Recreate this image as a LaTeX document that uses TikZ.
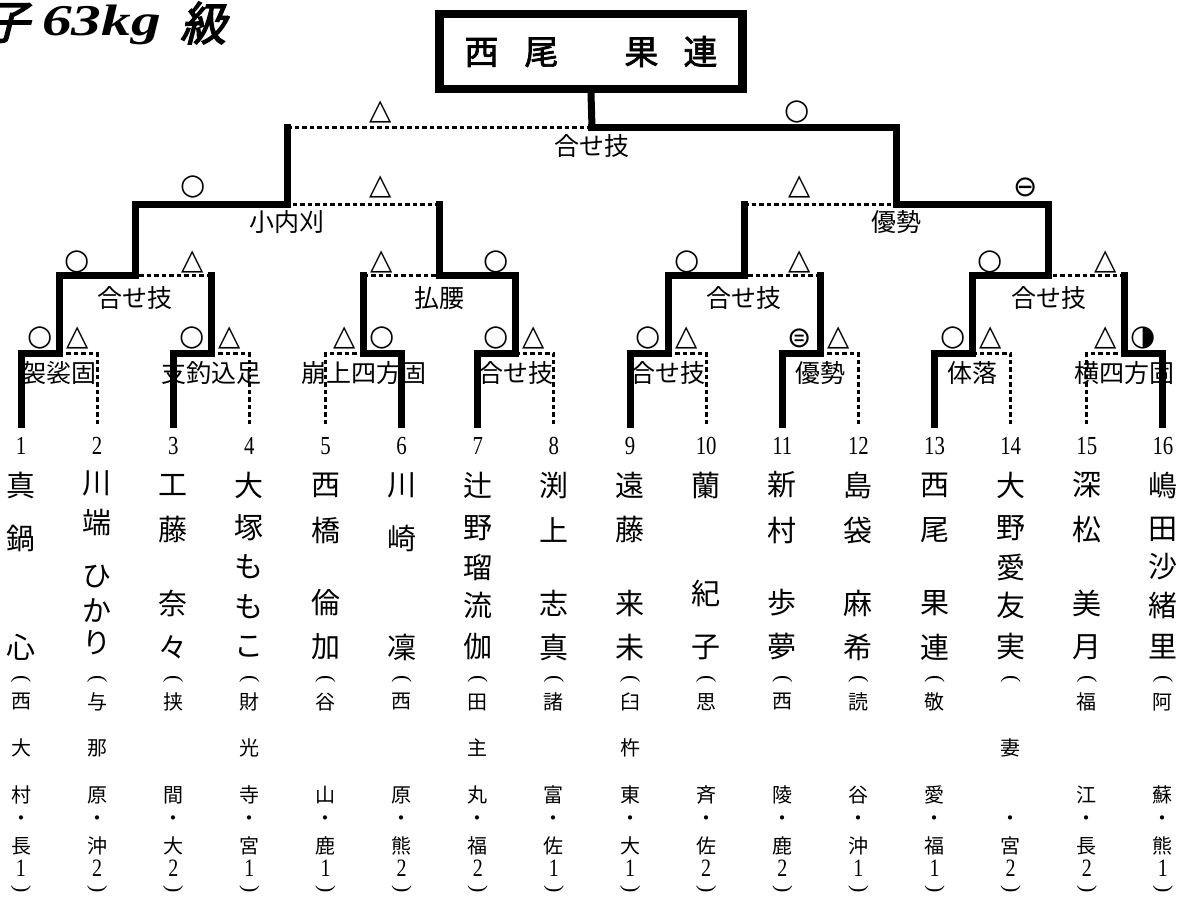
\documentclass[tikz,border=0pt]{standalone}
\usepackage{fontspec}
\usetikzlibrary{calc}
\setmainfont{Liberation Serif}
\newfontfamily\cjk{Noto Sans CJK JP}
\newfontfamily\cjkb{Noto Sans CJK JP}[FakeBold=2]
\newfontfamily\cjkti{Noto Sans CJK JP}[FakeBold=3,FakeSlant=0.25]
\newfontfamily\numf{Liberation Serif}[FakeStretch=0.8]
\newfontfamily\titlef{Liberation Serif}[FakeStretch=1.35]
\newfontfamily\symf{DejaVu Sans}
\newcommand\pcol[2]{\foreach \c/\yy [count=\k] in {#2} {\node[namech] (nm#1-\k) at ({21+(#1-1)*76.13},\yy) {\c};}}
\newcommand\acol[4]{%
  \pgfmathsetmacro\ax{21+(#1-1)*76.13}%
  \node[paren] (ao#1) at (\ax,679) {(};
  \foreach \c/\yy [count=\k] in {#2} {\node[affch] (af#1-\k) at (\ax,\yy) {\c};}
  \node[affch] (ad#1) at (\ax,821) {・};
  \node[affch] (ap#1) at (\ax,846) {#3};
  \node[affnum] (ag#1) at (\ax,868) {#4};
  \node[paren] (ac#1) at (\ax,889) {)};
}
\tikzset{
  win/.style={line width=7pt, line cap=rect, line join=miter},
  lose/.style={line width=3pt, dash pattern=on 4.5pt off 3pt},
  waza/.style={font=\cjk\fontsize{25}{25}\selectfont, inner sep=0pt},
  res/.style={font=\symf\fontsize{29}{29}\selectfont, inner sep=0pt},
  num/.style={font=\numf\fontsize{26}{26}\selectfont, inner sep=0pt},
  namech/.style={font=\cjk\fontsize{29}{29}\selectfont, inner sep=0pt},
  affch/.style={font=\cjk\fontsize{20}{20}\selectfont, inner sep=0pt},
  affnum/.style={font=\numf\fontsize{25}{25}\selectfont, inner sep=0pt},
  paren/.style={font=\fontsize{22}{22}\selectfont, inner sep=0pt, rotate=-90},
}
\begin{document}
\begin{tikzpicture}[x=1pt,y=-1pt]
\useasboundingbox (0,0) rectangle (1179,899);
% title
\node[font=\cjkti\fontsize{46}{46}\selectfont, inner sep=0pt] (t1) at (6,23) {子};
\node[font=\titlef\bfseries\itshape\fontsize{44}{44}\selectfont, inner sep=0pt, anchor=base west] (t2) at (42,36) {63kg};
\node[font=\cjkti\fontsize{46}{46}\selectfont, inner sep=0pt] (t3) at (203,23) {級};
% champion
\node[draw, line width=8.5pt, minimum width=303pt, minimum height=75pt, inner sep=0pt,
      font=\cjkb\fontsize{34}{34}\selectfont] (champ) at (591,51.5)
      {西\hspace{26pt}尾\hspace{66pt}果\hspace{25pt}連};
% coordinates
\foreach \i in {1,...,16} \coordinate (p\i) at ({21+(\i-1)*76.13},424);
\foreach \k in {1,...,8} \coordinate (a\k) at ({21+(2*\k-1.5)*76.13},353);
\foreach \k in {1,...,4} \coordinate (b\k) at ({21+(4*\k-2.5)*76.13},275);
\foreach \k in {1,2} \coordinate (c\k) at ({21+(8*\k-4.5)*76.13},204);
\coordinate (d) at ({21+7.5*76.13},127);
% technique labels
\foreach \k/\t in {1/袈裟固,2/支釣込足,3/崩上四方固,4/合せ技,5/合せ技,6/優勢,7/体落,8/横四方固}
  {\node[waza] (wa\k) at ($(a\k)+(0,20)$) {\t};}
\foreach \k/\t in {1/合せ技,2/払腰,3/合せ技,4/合せ技}
  {\node[waza] (wb\k) at ($(b\k)+(0,23)$) {\t};}
\node[waza] (wc1) at ($(c1)+(0,18)$) {小内刈};
\node[waza] (wc2) at ($(c2)+(0,18)$) {優勢};
\node[waza] (wd) at ($(d)+(0,19)$) {合せ技};
% losing lines
\draw[lose] (p2) |- (a1);
\draw[lose] (p4) |- (a2);
\draw[lose] (p5) |- (a3);
\draw[lose] (p8) |- (a4);
\draw[lose] (p10) |- (a5);
\draw[lose] (p12) |- (a6);
\draw[lose] (p14) |- (a7);
\draw[lose] (p15) |- (a8);
\draw[lose] (a2 |- b1) -- (b1);
\draw[lose] (a3 |- b2) -- (b2);
\draw[lose] (a6 |- b3) -- (b3);
\draw[lose] (a8 |- b4) -- (b4);
\draw[lose] (b2 |- c1) -- (c1);
\draw[lose] (b3 |- c2) -- (c2);
\draw[lose] (c1 |- d) -- (d);
% winning lines
\draw[win] (p1) |- (a1);
\draw[win] (p3) |- (a2);
\draw[win] (p6) |- (a3);
\draw[win] (p7) |- (a4);
\draw[win] (p9) |- (a5);
\draw[win] (p11) |- (a6);
\draw[win] (p13) |- (a7);
\draw[win] (p16) |- (a8);
\draw[win] (a1) |- (b1);
\draw[win] (a2) -- (a2 |- b1);
\draw[win] (a3) -- (a3 |- b2);
\draw[win] (a4) |- (b2);
\draw[win] (a5) |- (b3);
\draw[win] (a6) -- (a6 |- b3);
\draw[win] (a7) |- (b4);
\draw[win] (a8) -- (a8 |- b4);
\draw[win] (b1) |- (c1);
\draw[win] (b2) -- (b2 |- c1);
\draw[win] (b3) -- (b3 |- c2);
\draw[win] (b4) |- (c2);
\draw[win] (c1) -- (c1 |- d);
\draw[win] (c2) |- (d);
\draw[win] (d) -- (champ.south);
% results
\node[res] (r1) at (40,338) {○};   \node[res] (r2) at (78,338) {△};
\node[res] (r3) at (192,338) {○};  \node[res] (r4) at (230,338) {△};
\node[res] (r5) at (345,338) {△};  \node[res] (r6) at (382,338) {○};
\node[res] (r7) at (496,338) {○};  \node[res] (r8) at (534,338) {△};
\node[res] (r9) at (648,338) {○};  \node[res] (r10) at (687,338) {△};
\node[res] (r11) at (800,338) {⊜}; \node[res] (r12) at (839,338) {△};
\node[res] (r13) at (953,338) {○}; \node[res] (r14) at (991,338) {△};
\node[res] (r15) at (1106,338) {△}; \node[res] (r16) at (1143,338) {◑};
\node[res] (s1) at (77,262) {○};   \node[res] (s2) at (193,262) {△};
\node[res] (s3) at (382,262) {△};  \node[res] (s4) at (496,262) {○};
\node[res] (s5) at (687,262) {○};  \node[res] (s6) at (800,262) {△};
\node[res] (s7) at (990,262) {○};  \node[res] (s8) at (1106,262) {△};
\node[res] (u1) at (193,187) {○};  \node[res] (u2) at (381,187) {△};
\node[res] (u3) at (800,187) {△};  \node[res] (u4) at (1026,187) {⊖};
\node[res] (v1) at (381,112) {△};  \node[res] (v2) at (797,112) {○};
% numbers
\foreach \i in {1,...,16} {\node[num] (n\i) at ({21+(\i-1)*76.13},446) {\i};}
% names
\pcol{1}{真/485,鍋/538,心/647}
\pcol{2}{川/483,端/523,ひ/577,か/610,り/643}
\pcol{3}{工/485,藤/530,奈/603,々/647}
\pcol{4}{大/485,塚/528,も/567,も/607,こ/647}
\pcol{5}{西/485,橋/530,倫/603,加/647}
\pcol{6}{川/485,崎/538,凜/647}
\pcol{7}{辻/485,野/528,瑠/567,流/605,伽/647}
\pcol{8}{渕/485,上/530,志/603,真/647}
\pcol{9}{遠/485,藤/530,来/603,未/647}
\pcol{10}{蘭/485,紀/593,子/647}
\pcol{11}{新/485,村/530,歩/603,夢/647}
\pcol{12}{島/485,袋/530,麻/603,希/647}
\pcol{13}{西/485,尾/530,果/603,連/647}
\pcol{14}{大/485,野/528,愛/567,友/605,実/647}
\pcol{15}{深/485,松/530,美/603,月/647}
\pcol{16}{嶋/485,田/529,沙/567,緒/605,里/647}
% affiliations
\acol{1}{西/702,大/748,村/795}{長}{1}
\acol{2}{与/702,那/748,原/795}{沖}{2}
\acol{3}{挟/702,間/795}{大}{2}
\acol{4}{財/702,光/748,寺/795}{宮}{1}
\acol{5}{谷/702,山/795}{鹿}{1}
\acol{6}{西/702,原/795}{熊}{2}
\acol{7}{田/702,主/748,丸/795}{福}{2}
\acol{8}{諸/702,富/795}{佐}{1}
\acol{9}{臼/702,杵/748,東/795}{大}{1}
\acol{10}{思/702,斉/795}{佐}{2}
\acol{11}{西/702,陵/795}{鹿}{2}
\acol{12}{読/702,谷/795}{沖}{1}
\acol{13}{敬/702,愛/795}{福}{1}
\acol{14}{妻/748}{宮}{2}
\acol{15}{福/702,江/795}{長}{2}
\acol{16}{阿/702,蘇/795}{熊}{1}
\end{tikzpicture}
\end{document}
